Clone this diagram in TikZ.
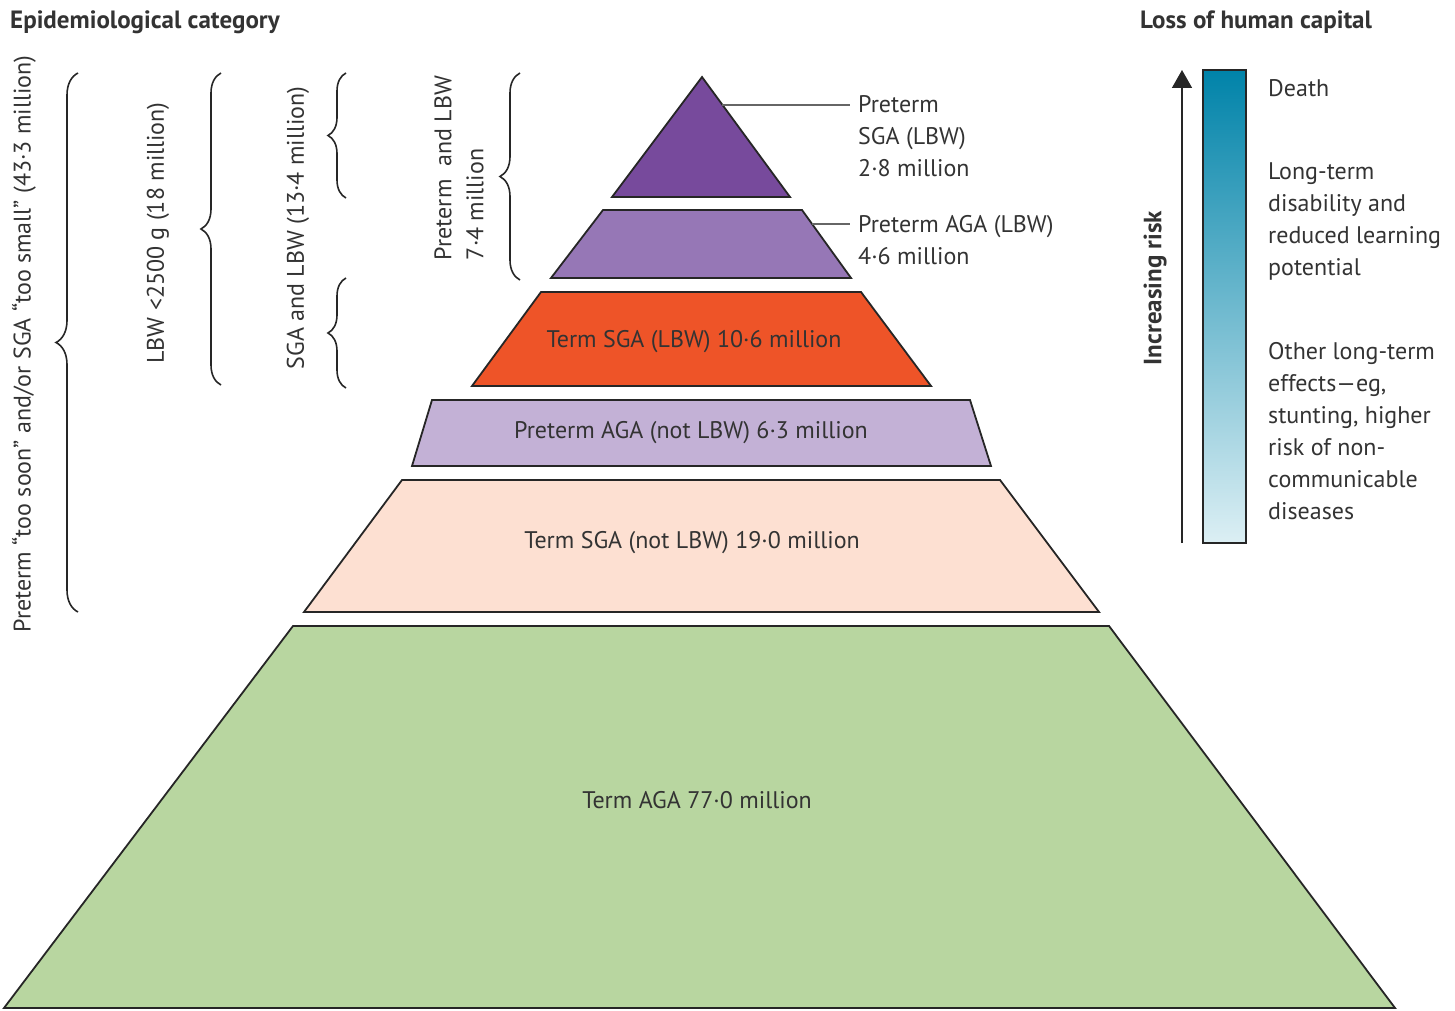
\documentclass[tikz,border=0pt]{standalone}
\usepackage{fontspec}
\setmainfont{PT Sans}
\usetikzlibrary{decorations.pathreplacing,arrows.meta}
\definecolor{txt}{HTML}{333333}
\definecolor{cA}{HTML}{774A9C}
\definecolor{cB}{HTML}{9677B6}
\definecolor{cC}{HTML}{EE5428}
\definecolor{cD}{HTML}{C3B1D6}
\definecolor{cE}{HTML}{FDE0D2}
\definecolor{cF}{HTML}{B8D6A0}
\definecolor{barTop}{HTML}{0083A9}
\definecolor{barBot}{HTML}{DCEFF4}
\begin{document}
\begin{tikzpicture}[x=1pt,y=-1pt,
  tier/.style={draw=black!85,line width=1.8pt},
  lbl/.style={font=\fontsize{24}{32}\selectfont,text=txt,inner sep=0pt},
  ttl/.style={font=\fontsize{25}{30}\selectfont\bfseries,text=txt,inner sep=0pt},
  leader/.style={draw=black!60,line width=1.4pt},
  brc/.style={decorate,decoration={brace,amplitude=#1},line width=1.6pt,draw=black!85}]
\useasboundingbox (0,0) rectangle (1455,1011);

% titles
\node[ttl,anchor=west] (t1) at (10,22) {Epidemiological category};
\node[ttl,anchor=west] (t2) at (1140,22) {Loss of human capital};

% pyramid tiers
\draw[tier,fill=cA] (702,77) -- (790,197) -- (612,197) -- cycle;
\draw[tier,fill=cB] (603,210) -- (802,210) -- (851,278) -- (551,278) -- cycle;
\draw[tier,fill=cC] (541,292) -- (861,292) -- (931,386) -- (472,386) -- cycle;
\draw[tier,fill=cD] (432,400) -- (970,400) -- (991,466) -- (412,466) -- cycle;
\draw[tier,fill=cE] (402,480) -- (1000,480) -- (1099,612) -- (304,612) -- cycle;
\draw[tier,fill=cF] (293,626) -- (1109,626) -- (1395,1008) -- (4,1008) -- cycle;

\node[lbl] (n3) at (694,342) {Term SGA (LBW) 10·6 million};
\node[lbl] (n4) at (691,433) {Preterm AGA (not LBW) 6·3 million};
\node[lbl] (n5) at (692,543) {Term SGA (not LBW) 19·0 million};
\node[lbl] (n6) at (697,800) {Term AGA 77·0 million};

% leader labels
\coordinate (l1s) at (722,105);
\coordinate (l1e) at (850,105);
\node[lbl,anchor=north west,align=left] (n1) at (858,95) {Preterm\\SGA (LBW)\\2·8 million};
\draw[leader] (l1s) -- (l1e);
\coordinate (l2s) at (812,224);
\coordinate (l2e) at (850,224);
\node[lbl,anchor=north west,align=left] (n2) at (858,215) {Preterm AGA (LBW)\\4·6 million};
\draw[leader] (l2s) -- (l2e);

% braces
\coordinate (b1a) at (520,280); \coordinate (b1b) at (520,73);
\draw[brc=20pt] (b1a) -- (b1b);
\node[lbl,rotate=90,align=left] (tb1) at (459,168) {Preterm\ \ and LBW\\7·4 million};

\coordinate (b2a) at (346,198); \coordinate (b2b) at (346,73);
\draw[brc=18pt] (b2a) -- (b2b);
\coordinate (b3a) at (346,388); \coordinate (b3b) at (346,278);
\draw[brc=18pt] (b3a) -- (b3b);
\node[lbl,rotate=90] (tb2) at (298,228) {SGA and LBW (13·4 million)};

\coordinate (b4a) at (221,385); \coordinate (b4b) at (221,73);
\draw[brc=20pt] (b4a) -- (b4b);
\node[lbl,rotate=90] (tb4) at (158,233) {LBW <2500 g (18 million)};

\coordinate (b5a) at (78,612); \coordinate (b5b) at (78,73);
\draw[brc=22pt] (b5a) -- (b5b);
\node[lbl,rotate=90] (tb5) at (24,344) {Preterm “too soon” and/or SGA “too small” (43·3 million)};

% right side
\coordinate (ra) at (1182,543); \coordinate (rb) at (1182,70);
\draw[line width=1.6pt,draw=black!85,-{Triangle[width=20pt,length=18pt]}] (ra) -- (rb);
\node[ttl,rotate=90] (ir) at (1155,288) {Increasing risk};
\shade[top color=barTop,bottom color=barBot] (1203,70) rectangle (1246,543);
\draw[line width=1.8pt,draw=black!85] (1203,70) rectangle (1246,543);

\node[lbl,anchor=north west,align=left] (r1) at (1268,79) {Death};
\node[lbl,anchor=north west,align=left] (r2) at (1268,162) {Long-term\\disability and\\reduced learning\\potential};
\node[lbl,anchor=north west,align=left] (r3) at (1268,342) {Other long-term\\effects—eg,\\stunting, higher\\risk of non-\\communicable\\diseases};
\end{tikzpicture}
\end{document}
